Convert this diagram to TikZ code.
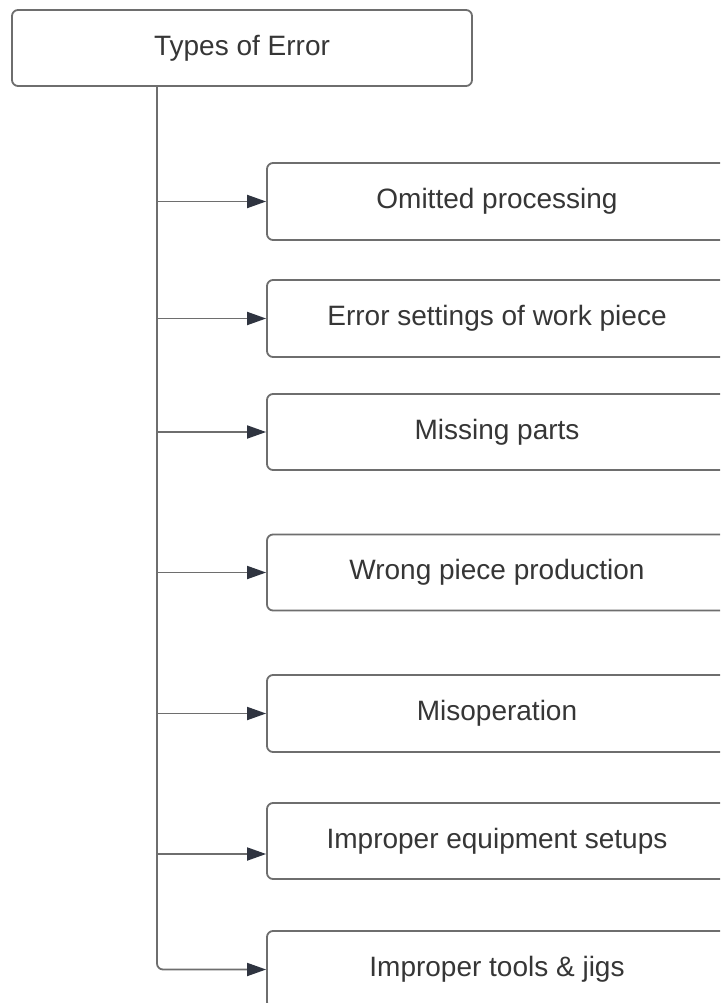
\documentclass[tikz,border=0pt]{standalone}
\usepackage{fontspec}
\setmainfont{Liberation Sans}
\usetikzlibrary{arrows.meta}
\definecolor{linegray}{HTML}{6E6E6E}
\definecolor{headgray}{HTML}{2F3440}
\definecolor{textgray}{HTML}{363636}

\begin{document}
\begin{tikzpicture}[x=1pt,y=-1pt,
  errbox/.style={draw=linegray, line width=1.8pt, rounded corners=6pt, minimum width=460pt, minimum height=77pt, inner sep=0pt, text=textgray, font=\fontsize{28}{32}\selectfont},
  branch/.style={draw=linegray, line width=1.8pt, -{Triangle[length=19pt,width=13pt,color=headgray]}}]
\clip (0,0) rectangle (720,1003);
\fill[white] (0,0) rectangle (720,1003);

\node[errbox, minimum height=76pt] (types) at (242,48) {Types of Error};
\node[errbox] (omit) at (497,201.5) {Omitted processing};
\node[errbox] (settings) at (497,318.5) {Error settings of work piece};
\node[errbox, minimum height=76pt] (missing) at (497,432) {Missing parts};
\node[errbox, minimum height=76pt] (wrong) at (497,572.5) {Wrong piece production};
\node[errbox] (misop) at (497,713.5) {Misoperation};
\node[errbox, minimum height=76pt] (equip) at (497,841) {Improper equipment setups};
\node[errbox] (tools) at (497,969.5) {Improper tools \& jigs};

\coordinate (trunk) at (157,86);

\draw[draw=linegray, line width=1.8pt] (trunk) -- (trunk |- omit.west);
\draw[branch] (trunk |- omit.west) -- (omit.west);
\draw[branch] (trunk |- settings.west) -- (settings.west);
\draw[branch] (trunk |- missing.west) -- (missing.west);
\draw[branch] (trunk |- wrong.west) -- (wrong.west);
\draw[branch] (trunk |- misop.west) -- (misop.west);
\draw[branch] ([yshift=-13pt]trunk |- equip.west) -- ([yshift=-13pt]equip.west);
\draw[branch, rounded corners=6pt] (trunk |- omit.west) -- (trunk |- tools.west) -- (tools.west);

\end{tikzpicture}
\end{document}
